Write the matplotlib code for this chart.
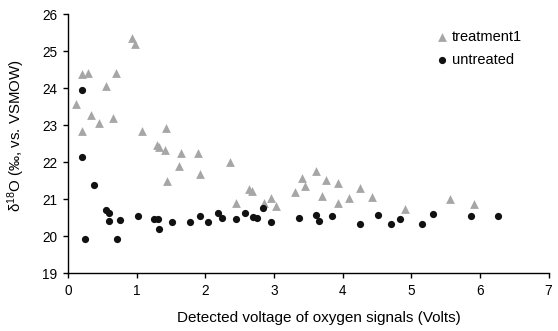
import matplotlib
matplotlib.use('Agg')
import matplotlib.pyplot as plt

matplotlib.rcParams['font.family'] = ['Liberation Sans', 'DejaVu Sans']
matplotlib.rcParams['mathtext.fontset'] = 'custom'
matplotlib.rcParams['mathtext.rm'] = 'Liberation Sans'
matplotlib.rcParams['mathtext.it'] = 'Liberation Sans'
matplotlib.rcParams['mathtext.bf'] = 'Liberation Sans'

treat_x = [0.11, 0.20, 0.21, 0.29, 0.33, 0.45, 0.55, 0.65, 0.70, 0.93,
           0.98, 1.08, 1.29, 1.33, 1.41, 1.43, 1.44, 1.62, 1.65, 1.89,
           1.92, 2.36, 2.44, 2.64, 2.68, 2.86, 2.95, 3.03, 3.30, 3.41,
           3.45, 3.61, 3.70, 3.76, 3.93, 3.93, 4.10, 4.25, 4.43, 4.91,
           5.57, 5.91]
treat_y = [23.58, 22.84, 24.38, 24.42, 23.27, 23.06, 24.06, 23.19, 24.42, 25.35,
           25.20, 22.84, 22.47, 22.41, 22.33, 22.93, 21.50, 21.91, 22.24, 22.24,
           21.68, 22.00, 20.91, 21.28, 21.23, 20.91, 21.05, 20.81, 21.21, 21.57,
           21.37, 21.77, 21.09, 21.51, 21.44, 20.91, 21.03, 21.31, 21.07, 20.75,
           21.02, 20.88]

untr_x = [0.21, 0.21, 0.24, 0.38, 0.55, 0.59, 0.60, 0.71, 0.76, 1.02,
          1.25, 1.31, 1.33, 1.51, 1.77, 1.92, 2.04, 2.18, 2.24, 2.44,
          2.58, 2.70, 2.75, 2.84, 2.95, 3.37, 3.61, 3.66, 3.85, 4.25,
          4.52, 4.70, 4.84, 5.15, 5.31, 5.87, 6.27]
untr_y = [23.95, 22.14, 19.92, 21.39, 20.71, 20.42, 20.62, 19.92, 20.43, 20.55,
          20.48, 20.47, 20.20, 20.39, 20.39, 20.55, 20.39, 20.62, 20.50, 20.48,
          20.64, 20.52, 20.50, 20.76, 20.39, 20.50, 20.57, 20.41, 20.55, 20.33,
          20.59, 20.33, 20.48, 20.33, 20.61, 20.55, 20.55]

fig = plt.figure(figsize=(5.58, 3.31), dpi=100)
ax = fig.add_axes([0.122, 0.174, 0.861, 0.783])

ax.scatter(treat_x, treat_y, marker='^', s=40, color='#a6a6a6', linewidths=0,
           label='treatment1', zorder=3)
ax.scatter(untr_x, untr_y, marker='o', s=27, color='#111111', linewidths=0,
           label='untreated', zorder=3)

ax.set_xlim(0, 7)
ax.set_ylim(19, 26)
ax.set_xticks(range(0, 8))
ax.set_yticks(range(19, 27))
ax.spines['top'].set_visible(False)
ax.spines['right'].set_visible(False)
ax.spines['left'].set_linewidth(1.0)
ax.spines['bottom'].set_linewidth(1.0)
ax.tick_params(direction='out', length=3.6, width=1.0, labelsize=9.8, pad=4)

ax.set_xlabel('Detected voltage of oxygen signals (Volts)', fontsize=11)
ax.xaxis.set_label_coords(0.522, -0.145)
ax.set_ylabel('δ$^{18}$O (‰, vs. VSMOW)', fontsize=10.8)
ax.yaxis.set_label_coords(-0.086, 0.53)

ax.legend(loc='upper left', bbox_to_anchor=(0.763, 0.94), frameon=False,
          fontsize=10.5, handlelength=1.0, handletextpad=0.2, labelspacing=0.62,
          borderaxespad=0, borderpad=0)

plt.savefig('out.png', dpi=100)
